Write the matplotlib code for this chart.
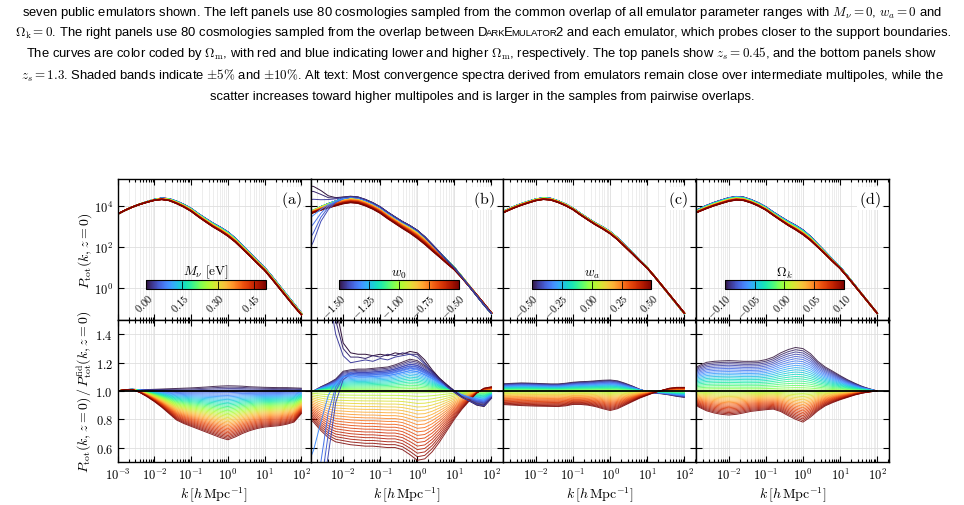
import numpy as np
import matplotlib
matplotlib.use("Agg")
import matplotlib.pyplot as plt
from matplotlib import ticker, colors, cm

plt.rcParams["mathtext.fontset"] = "cm"

# k grid (log10 of k in h/Mpc) and fiducial spectrum
log_k = [-3.0, -2.8, -2.6, -2.4, -2.2, -2.0, -1.8, -1.6, -1.4, -1.2, -1.0, -0.8, -0.6,
         -0.4, -0.2, 0.0, 0.2, 0.4, 0.6, 0.8, 1.0, 1.2, 1.4, 1.6, 1.8, 2.0]
log_p_fid = [3.62, 3.80, 3.96, 4.10, 4.22, 4.33, 4.39, 4.36, 4.24, 4.08, 3.88, 3.62, 3.38,
             3.15, 2.95, 2.72, 2.42, 2.06, 1.70, 1.33, 0.98, 0.55, 0.10, -0.35, -0.80, -1.25]

# ratio envelopes: U = first colour (purple end), L = last colour (red end)
U_a = [1.00, 1.01, 1.012, 1.01, 1.01, 1.012, 1.014, 1.016, 1.018, 1.02, 1.022, 1.025, 1.028,
       1.032, 1.035, 1.037, 1.036, 1.034, 1.03, 1.028, 1.026, 1.025, 1.024, 1.024, 1.022, 1.02]
L_a = [1.00, 1.01, 1.01, 0.99, 0.96, 0.925, 0.885, 0.84, 0.795, 0.77, 0.75, 0.73, 0.71,
       0.69, 0.67, 0.655, 0.675, 0.70, 0.72, 0.735, 0.745, 0.75, 0.755, 0.765, 0.78, 0.84]

U_b = [1.0, 1.0, 1.03, 1.055, 1.085, 1.14, 1.15, 1.155, 1.155, 1.16, 1.165, 1.17, 1.185,
       1.205, 1.225, 1.215, 1.18, 1.14, 1.09, 1.045, 1.0, 0.96, 0.935, 0.91, 0.90, 0.955]
L_b = [0.82, 0.78, 0.72, 0.67, 0.64, 0.63, 0.62, 0.615, 0.61, 0.61, 0.605, 0.60, 0.60,
       0.585, 0.55, 0.51, 0.52, 0.57, 0.64, 0.72, 0.80, 0.87, 0.93, 0.985, 1.02, 1.03]

U_c = [1.05, 1.052, 1.055, 1.057, 1.056, 1.054, 1.052, 1.05, 1.05, 1.055, 1.062, 1.066, 1.068,
       1.072, 1.076, 1.078, 1.072, 1.055, 1.035, 1.012, 0.995, 0.985, 0.98, 0.972, 0.962, 0.955]
L_c = [0.905, 0.903, 0.90, 0.897, 0.895, 0.893, 0.892, 0.891, 0.89, 0.895, 0.905, 0.905, 0.90,
       0.89, 0.875, 0.862, 0.875, 0.90, 0.925, 0.95, 0.97, 0.99, 1.005, 1.02, 1.026, 1.026]

U_d = [1.144, 1.18, 1.203, 1.21, 1.213, 1.215, 1.213, 1.21, 1.21, 1.212, 1.222, 1.24, 1.27,
       1.293, 1.308, 1.30, 1.265, 1.21, 1.17, 1.14, 1.109, 1.08, 1.055, 1.032, 1.015, 1.0]
L_d = [0.92, 0.885, 0.86, 0.845, 0.835, 0.83, 0.835, 0.845, 0.856, 0.862, 0.868, 0.872, 0.855,
       0.826, 0.80, 0.78, 0.815, 0.86, 0.895, 0.918, 0.938, 0.955, 0.972, 0.985, 0.994, 1.0]

# a few unstable w0 curves in panel (b)
wild_up_t = [0.0, 0.03, 0.06]
wild_up_b = [
    [25, 15, 6.5, 2.6, 1.6, 1.34, 1.27, 1.26, 1.26, 1.25, 1.26, 1.25, 1.27, 1.26, 1.28, 1.27,
     1.22, 1.15, 1.09, 1.04, 1.0, 0.96, 0.93, 0.90, 0.89, 0.95],
    [13, 8.5, 4.2, 2.1, 1.5, 1.3, 1.24, 1.24, 1.23, 1.25, 1.24, 1.26, 1.25, 1.27, 1.26, 1.26,
     1.2, 1.14, 1.08, 1.035, 0.99, 0.955, 0.93, 0.905, 0.895, 0.95],
    [5, 3.5, 2.3, 1.7, 1.4, 1.25, 1.2, 1.21, 1.22, 1.21, 1.23, 1.22, 1.24, 1.25, 1.26, 1.24,
     1.19, 1.13, 1.08, 1.03, 0.99, 0.955, 0.93, 0.905, 0.895, 0.95],
]
wild_down_t = [0.08, 0.11, 0.14, 0.18]
wild_down_b = [
    [0.008, 0.03, 0.2, 0.55, 0.92, 1.08, 1.12],
    [0.03, 0.08, 0.32, 0.7, 1.0, 1.1, 1.13],
    [0.12, 0.22, 0.5, 0.85, 1.03, 1.1, 1.12],
    [0.45, 0.58, 0.78, 0.97, 1.06, 1.1, 1.11],
]

cb_labels = [r"$M_\nu\ [\mathrm{eV}]$", r"$w_0$", r"$w_a$", r"$\Omega_k$"]
cb_ranges = [(0.0, 0.5), (-1.5, -0.5), (-0.5, 0.5), (-0.1, 0.1)]
cb_ticks = [[0.0, 0.15, 0.30, 0.45], [-1.5, -1.25, -1.0, -0.75, -0.5],
            [-0.5, -0.25, 0.0, 0.25, 0.5], [-0.1, -0.05, 0.0, 0.05, 0.1]]
tags = ["(a)", "(b)", "(c)", "(d)"]
n_curves = 40

caption = [
    r"seven public emulators shown. The left panels use 80 cosmologies sampled from the common overlap of all emulator parameter ranges with $M_\nu = 0$, $w_a = 0$ and",
    None,
    r"The curves are color coded by $\Omega_{\rm m}$, with red and blue indicating lower and higher $\Omega_{\rm m}$, respectively. The top panels show $z_s = 0.45$, and the bottom panels show",
    r"$z_s = 1.3$. Shaded bands indicate $\pm5\%$ and $\pm10\%$. Alt text: Most convergence spectra derived from emulators remain close over intermediate multipoles, while the",
    "scatter increases toward higher multipoles and is larger in the samples from pairwise overlaps.",
]
caption_l2 = [(r"$\Omega_{\rm k} = 0$. The right panels use 80 cosmologies sampled from the overlap between D", 9.4),
              ("ARK", 6.8), ("E", 9.4), ("MULATOR", 6.8),
              ("2 and each emulator, which probes closer to the support boundaries.", 9.4)]


def ratio(U, L, t, centred):
    U = np.array(U)
    L = np.array(L)
    if not centred:
        return U + t * (L - U)
    if t <= 0.5:
        return 1 + (1 - 2 * t) * (U - 1)
    return 1 + (2 * t - 1) * (L - 1)


k = 10 ** np.array(log_k)
fid = 10 ** np.array(log_p_fid)
cmap = plt.get_cmap("turbo")

fig, axes = plt.subplots(2, 4, figsize=(9.64, 5.06), dpi=100)
fig.subplots_adjust(left=0.1221, right=0.9222, top=0.6443, bottom=0.0856, wspace=0, hspace=0)

envs = [(U_a, L_a, False), (U_b, L_b, True), (U_c, L_c, True), (U_d, L_d, True)]
logfmt = ticker.FuncFormatter(lambda v, _: r"$10^{%d}$" % round(np.log10(v)))

for j in range(4):
    ax_t, ax_b = axes[0, j], axes[1, j]
    U, L, centred = envs[j]
    for t in np.linspace(0, 1, n_curves):
        r = ratio(U, L, t, centred)
        ax_b.plot(k, r, color=cmap(t), lw=0.7, alpha=0.85)
        ax_t.plot(k, fid * r, color=cmap(t), lw=1.0)
    if j == 1:
        for t, r in zip(wild_down_t, wild_down_b):
            full = ratio(U, L, t, centred)
            full[:len(r)] = r
            ax_b.plot(k, full, color=cmap(t), lw=0.7)
            ax_t.plot(k, fid * full, color=cmap(t), lw=0.7)
        for t, r in zip(wild_up_t, wild_up_b):
            ax_b.plot(k, r, color=cmap(t), lw=0.7)
            ax_t.plot(k, fid * np.array(r), color=cmap(t), lw=0.7)
    ax_b.axhline(1.0, color="k", lw=1.3, zorder=5)

    xlim = (10 ** -3.0, 10 ** 2.25) if j == 0 else (10 ** -2.88, 10 ** 2.32)
    for ax in (ax_t, ax_b):
        ax.set_xscale("log")
        ax.set_xlim(*xlim)
        ax.xaxis.set_major_locator(ticker.LogLocator(base=10, numticks=15))
        ax.xaxis.set_minor_locator(ticker.LogLocator(base=10, subs=np.arange(2, 10), numticks=15))
        ax.xaxis.set_major_formatter(logfmt)
        ax.xaxis.set_minor_formatter(ticker.NullFormatter())
        ax.tick_params(which="both", direction="in", top=True, right=True, width=0.8, labelsize=9)
        ax.tick_params(which="major", length=4.5)
        ax.tick_params(which="minor", length=2.5)
        ax.grid(True, which="major", color="0.87", lw=0.6)
        ax.grid(True, which="minor", axis="x", color="0.9", lw=0.5)
        ax.set_axisbelow(True)
        for s in ax.spines.values():
            s.set_linewidth(1.0)

    ax_t.set_yscale("log")
    ax_t.set_ylim(10 ** -1.6, 10 ** 5.34)
    ax_t.yaxis.set_major_locator(ticker.FixedLocator([1e0, 1e2, 1e4]))
    ax_t.yaxis.set_minor_locator(ticker.NullLocator())
    ax_t.yaxis.set_major_formatter(logfmt)
    ax_t.tick_params(labelbottom=False)

    ax_b.set_ylim(0.5, 1.5)
    ax_b.set_yticks([0.6, 0.8, 1.0, 1.2, 1.4])
    ax_b.yaxis.set_major_formatter(ticker.FuncFormatter(lambda v, _: r"$%.1f$" % v))
    ax_b.set_xlabel(r"$k\,[h\,\mathrm{Mpc}^{-1}]$", fontsize=10, labelpad=2)

    if j == 0:
        ax_t.set_ylabel(r"$P_{\rm tot}(k, z=0)$", fontsize=10)
        ax_b.set_ylabel(r"$P_{\rm tot}(k, z=0)\,/\,P^{\rm fid}_{\rm tot}(k, z=0)$", fontsize=10)
        ax_t.yaxis.set_label_coords(-0.125, 0.5)
        ax_b.yaxis.set_label_coords(-0.125, 0.5)
    else:
        ax_t.tick_params(labelleft=False)
        ax_b.tick_params(labelleft=False)

    ax_t.text(0.955, 0.93, r"$\mathrm{%s}$" % tags[j], transform=ax_t.transAxes,
              ha="right", va="top", fontsize=11.5,
              bbox=dict(facecolor="white", edgecolor="none", pad=1.0), zorder=6)

    lo, hi = cb_ranges[j]
    cax = ax_t.inset_axes([0.148, 0.224, 0.62, 0.063])
    sm = cm.ScalarMappable(norm=colors.Normalize(lo, hi), cmap=cmap)
    cb = fig.colorbar(sm, cax=cax, orientation="horizontal")
    cb.set_ticks(cb_ticks[j])
    cb.ax.set_xticklabels([r"$%.2f$" % v for v in cb_ticks[j]], rotation=45, ha="right",
                          rotation_mode="anchor", fontsize=7.5)
    cb.ax.tick_params(direction="in", length=6, width=0.6, pad=2)
    cb.outline.set_linewidth(0.8)
    cb.ax.set_title(cb_labels[j], fontsize=9.5, pad=1)

cap_kw = dict(family=["Liberation Sans", "DejaVu Sans"], fontsize=9.4, va="baseline")
baselines = [16, 36, 57, 79, 100]
for line, yb in zip(caption, baselines):
    if line is not None:
        fig.text(0.5, 1 - yb / 506, line, ha="center", **cap_kw)

# line 2 with small caps, assembled piece by piece
pieces = []
for s, size in caption_l2:
    pieces.append(fig.text(0, 1 - baselines[1] / 506, s, ha="left",
                           family=["Liberation Sans", "DejaVu Sans"], fontsize=size, va="baseline"))
renderer = fig.canvas.get_renderer()
fig_px = fig.get_figwidth() * fig.dpi
widths = [(p.get_window_extent(renderer).width - 1.5) / fig_px for p in pieces]
x = 0.5 - sum(widths) / 2
for p, w in zip(pieces, widths):
    p.set_x(x)
    x += w

fig.savefig("out.png", dpi=100)
